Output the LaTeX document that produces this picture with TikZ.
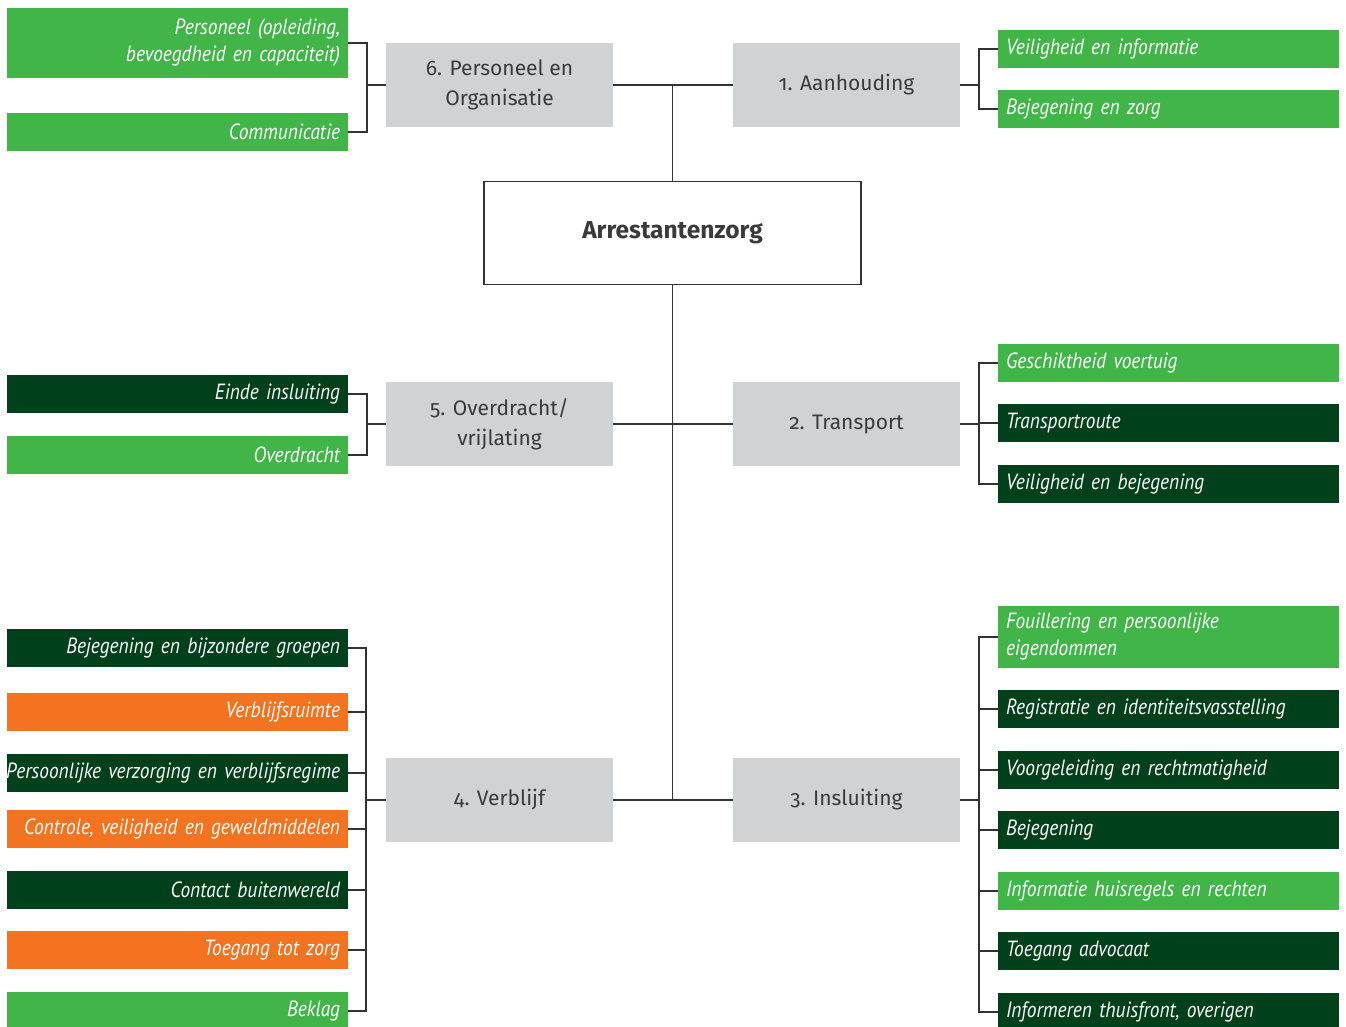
\documentclass[tikz,border=0pt]{standalone}
\usepackage{fontspec}
\setmainfont{Fira Sans}
\newfontfamily\itemfont[FakeStretch=0.88]{PT Sans}
\newfontfamily\topicfont[Numbers=OldStyle]{Fira Sans}
\newcommand\itemtext{\itemfont\itshape\fontsize{22}{27}\selectfont\hyphenpenalty=10000\relax}

\definecolor{lgreen}{HTML}{42B549}
\definecolor{dgreen}{HTML}{00401A}
\definecolor{orange}{HTML}{F37321}
\definecolor{boxgray}{HTML}{D1D2D4}
\definecolor{textgray}{HTML}{3A3A3A}
\definecolor{linegray}{HTML}{333333}

\tikzstyle{item}=[minimum width=341pt, text width=325pt, inner xsep=8pt, inner ysep=0pt,
  text=white, font=\itemtext]
\tikzstyle{litem}=[item, align=right]
\tikzstyle{ritem}=[item, align=left]
\tikzstyle{topic}=[fill=boxgray, minimum width=227pt, minimum height=84pt, inner sep=4pt,
  align=center, text=textgray, font=\topicfont\fontsize{21}{30}\selectfont]
\tikzstyle{link}=[draw=linegray, line width=1.3pt]

\begin{document}
\begin{tikzpicture}[x=1pt, y=-1pt]
    \useasboundingbox (0,0) rectangle (1346,1027);

    % main box and the six topics
    \path (672.5,233) node[draw=linegray, line width=1.3pt, minimum width=377pt, minimum height=103pt,
      text=textgray, font=\bfseries\fontsize{24.5}{28}\selectfont] (arrest) {Arrestantenzorg};

    \path (499.5,85)  node[topic] (g6) {6. Personeel en\\Organisatie};
    \path (846.5,85)  node[topic] (g1) {1. Aanhouding};
    \path (499.5,424) node[topic] (g5) {5. Overdracht/\\vrijlating};
    \path (846.5,424) node[topic] (g2) {2. Transport};
    \path (499.5,800) node[topic] (g4) {4. Verblijf};
    \path (846.5,800) node[topic] (g3) {3. Insluiting};

    % left column
    \foreach \n/\y/\h/\c/\t in {
        p1/43/70/lgreen/{Personeel (opleiding,\\bevoegdheid en capaciteit)},
        p2/132/38/lgreen/Communicatie,
        o1/394/38/dgreen/Einde insluiting,
        o2/455/38/lgreen/Overdracht,
        v1/648/38/dgreen/Bejegening en bijzondere groepen,
        v2/712/38/orange/Verblijfsruimte,
        v3/773/38/dgreen/{\hbox to 325pt{\hss Persoonlijke verzorging en verblijfsregime}},
        v4/829/38/orange/{Controle, veiligheid en geweldmiddelen},
        v5/890/38/dgreen/Contact buitenwereld,
        v6/950/38/orange/Toegang tot zorg,
        v7/1011/38/lgreen/Beklag}
    {
      \path (177.5,\y) node[litem, fill=\c, minimum height=\h pt] (\n) {\t};
    }

    % right column
    \foreach \n/\y/\h/\c/\t in {
        a1/49/38/lgreen/Veiligheid en informatie,
        a2/109/38/lgreen/Bejegening en zorg,
        t1/363/38/lgreen/Geschiktheid voertuig,
        t2/423/38/dgreen/Transportroute,
        t3/484/38/dgreen/Veiligheid en bejegening,
        i1/637/62/lgreen/{Fouillering en persoonlijke\\eigendommen},
        i2/709/38/dgreen/Registratie en identiteitsvasstelling,
        i3/770/38/dgreen/Voorgeleiding en rechtmatigheid,
        i4/830/38/dgreen/Bejegening,
        i5/891/38/lgreen/Informatie huisregels en rechten,
        i6/951/38/dgreen/Toegang advocaat,
        i7/1012/38/dgreen/{Informeren thuisfront, overigen}}
    {
      \path (1168.5,\y) node[ritem, fill=\c, minimum height=\h pt] (\n) {\t};
    }

    % spine
    \draw[link] (arrest.north) -- (arrest.north |- g1.west)
                (arrest.south) -- (arrest.south |- g3.west)
                (g6.east) -- (g1.west)
                (g5.east) -- (g2.west)
                (g4.east) -- (g3.west);

    % brackets
    \coordinate (b6) at (367,85);
    \coordinate (b5) at (367,424);
    \coordinate (b4) at (366,800);
    \coordinate (b1) at (979,85);
    \coordinate (b2) at (979,424);
    \coordinate (b3) at (979,800);

    \draw[link] (g6.west) -- (b6) (g5.west) -- (b5) (g4.west) -- (b4)
                (g1.east) -- (b1) (g2.east) -- (b2) (g3.east) -- (b3);

    \foreach \n in {p1,p2} \draw[link] (\n.east) -| (b6);
    \foreach \n in {o1,o2} \draw[link] (\n.east) -| (b5);
    \foreach \n in {v1,v2,v3,v4,v5,v6,v7} \draw[link] (\n.east) -| (b4);
    \foreach \n in {a1,a2} \draw[link] (\n.west) -| (b1);
    \foreach \n in {t1,t2,t3} \draw[link] (\n.west) -| (b2);
    \foreach \n in {i1,i2,i3,i4,i5,i6,i7} \draw[link] (\n.west) -| (b3);
\end{tikzpicture}
\end{document}
